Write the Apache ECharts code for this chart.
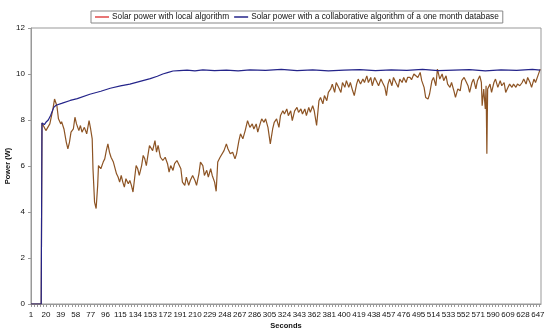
<!DOCTYPE html>
<html>
<head>
<meta charset="utf-8">
<script src="https://cdn.jsdelivr.net/npm/echarts@6/dist/echarts.min.js"></script>
<style>
  html, body { margin: 0; padding: 0; background: #fff; }
  #main { width: 550px; height: 334px; }
</style>
</head>
<body>
<div id="main"></div>
<script>
// x axis labels (seconds)
const secondLabels = [1, 20, 39, 58, 77, 96, 115, 134, 153, 172, 191, 210, 229, 248, 267, 286, 305,
  324, 343, 362, 381, 400, 419, 438, 457, 476, 495, 514, 533, 552, 571, 590, 609, 628, 647];
const yTicks = [0, 2, 4, 6, 8, 10, 12];

// local algorithm
const localSec = [1, 14, 15, 20, 25, 29, 31, 34, 36, 39, 40, 43, 46, 48, 50, 52, 55, 57, 59, 62, 64, 66, 69, 72, 75, 77, 79, 80,
  82, 84, 86, 87, 90, 93, 95, 97, 99, 101, 103, 106, 108, 110, 112, 114, 116, 118, 120, 122, 125, 127, 129, 131,
  133, 135, 137, 139, 142, 144, 146, 148, 150, 152, 154, 156, 159, 161, 163, 166, 169, 172, 175, 177, 179, 182,
  184, 187, 189, 192, 194, 197, 199, 202, 204, 207, 210, 212, 215, 217, 220, 222, 225, 227, 230, 232, 235, 237,
  239, 242, 244, 247, 250, 252, 255, 258, 261, 263, 266, 268, 271, 274, 277, 280, 283, 285, 288, 290, 293, 295,
  298, 300, 303, 306, 309, 311, 314, 317, 319, 322, 324, 327, 329, 332, 334, 337, 340, 342, 345, 347, 350, 352,
  355, 357, 360, 362, 365, 368, 370, 373, 375, 378, 380, 383, 385, 388, 390, 393, 396, 398, 401, 403, 406, 408,
  411, 413, 416, 418, 421, 424, 426, 429, 431, 434, 436, 439, 441, 444, 447, 449, 452, 454, 456, 458, 461, 463,
  466, 469, 471, 474, 476, 479, 481, 484, 486, 489, 491, 494, 497, 499, 502, 504, 507, 509, 512, 514, 517, 519,
  522, 525, 527, 530, 532, 535, 537, 540, 542, 545, 548, 550, 553, 555, 558, 560, 563, 565, 568, 570, 573, 575,
  576, 578, 580, 581, 582, 583, 586, 588, 591, 593, 596, 599, 601, 604, 606, 609, 611, 614, 616, 619, 621, 624,
  627, 629, 632, 634, 637, 639, 642, 644, 647, 650];
const localVal = [0, 0, 7.87, 7.54, 7.83, 8.48, 8.91, 8.62, 8.05, 7.83, 7.93, 7.61, 7.03, 6.75, 7.03, 7.47, 7.61, 8.12, 7.83, 7.54, 7.76, 7.47, 7.68, 7.4, 7.97, 7.61, 7.18, 5.88,
  4.43, 4.15, 5.16, 6.02, 5.88, 6.17, 6.31, 6.67, 6.96, 6.6, 6.38, 6.17, 6.24, 5.66, 5.52, 5.3, 5.59, 5.3, 5.08, 5.45, 5.23, 5.37, 5.16, 4.87,
  5.45, 6.02, 5.88, 5.59, 6.02, 6.46, 6.31, 6.02, 6.46, 6.89, 6.96, 6.67, 7.1, 6.6, 6.9, 6.38, 6.24, 6.38, 6.1, 5.73, 6.02, 5.81,
  6.1, 6.24, 6.1, 5.88, 5.3, 5.16, 5.52, 5.16, 5.37, 5.59, 5.37, 5.16, 5.66, 6.17, 6.02, 5.59, 5.81, 5.52, 5.88, 5.59, 5.3, 4.9,
  6.17, 6.38, 6.46, 6.67, 6.96, 6.75, 6.53, 6.6, 6.31, 6.53, 7.1, 7.4, 7.18, 7.54, 7.97, 7.68, 7.83, 7.61, 7.83, 7.47, 7.83, 8.05,
  7.9, 8.05, 7.68, 6.96, 7.61, 7.9, 8.05, 7.68, 8.2, 8.4, 8.26, 8.48, 8.19, 8.4, 7.97, 8.4, 8.55, 8.33, 8.48, 8.26, 8.48, 8.19,
  8.55, 8.33, 8.62, 8.4, 7.76, 8.84, 8.98, 8.7, 9.06, 8.84, 9.2, 9.35, 9.56, 9.2, 9.63, 9.42, 9.2, 9.63, 9.42, 9.71, 9.42, 9.63,
  9.27, 9.06, 9.56, 9.78, 9.56, 9.78, 9.63, 9.92, 9.63, 9.85, 9.49, 9.85, 9.71, 9.49, 9.78, 9.63, 9.42, 9.06, 9.56, 9.78, 9.49, 9.85,
  9.63, 9.42, 9.78, 9.63, 9.85, 9.63, 9.85, 9.85, 9.75, 10.0, 10.07, 9.85, 10.07, 9.71, 9.42, 8.98, 8.91, 9.13, 9.71, 9.85, 9.49, 10.21,
  9.78, 10.0, 9.71, 9.92, 9.56, 9.42, 9.63, 9.27, 8.98, 9.35, 9.27, 9.71, 9.85, 9.71, 9.49, 9.2, 9.63, 9.78, 9.35, 9.71, 9.92, 9.63,
  8.62, 9.35, 8.48, 9.49, 6.53, 9.35, 9.56, 9.2, 9.63, 9.78, 9.42, 9.71, 9.49, 9.63, 9.2, 9.42, 9.56, 9.42, 9.56, 9.42, 9.56, 9.49,
  9.63, 9.78, 9.56, 9.85, 9.63, 9.42, 9.78, 9.63, 9.92, 10.21];

// collaborative algorithm, one month database
const collabSec = [1, 14, 15, 18, 20, 23, 26, 30, 33, 40, 51, 60, 76, 90, 102, 115, 127, 140, 153, 162, 169, 176, 182,
  190, 200, 210, 220, 235, 250, 265, 280, 300, 320, 340, 360, 380, 400, 420, 440, 460, 480, 500, 520, 540, 560,
  580, 600, 620, 640, 650];
const collabVal = [0, 0, 7.87, 7.8, 7.9, 8.0, 8.2, 8.55, 8.64, 8.72, 8.85, 8.93, 9.12, 9.25, 9.38, 9.48, 9.56, 9.68, 9.8,
  9.9, 10.0, 10.07, 10.13, 10.15, 10.17, 10.14, 10.18, 10.15, 10.17, 10.14, 10.18, 10.16, 10.2, 10.15, 10.18, 10.14,
  10.17, 10.19, 10.15, 10.18, 10.16, 10.2, 10.15, 10.17, 10.19, 10.14, 10.18, 10.16, 10.2, 10.17];

const localName = 'Solar power with local algorithm';
const collabName = 'Solar power with a collaborative algorithm of a one month database';

const minorTicks = [];
for (let s = 1; s <= 651; s += 4) minorTicks.push(s);

const chart = echarts.init(document.getElementById('main'), null, { renderer: 'canvas' });

chart.setOption({
  animation: false,
  textStyle: { fontFamily: 'Liberation Sans, Arial, sans-serif' },
  legend: {
    left: 91,
    top: 11,
    padding: [2, 4],
    itemGap: 5,
    itemWidth: 14,
    itemHeight: 6,
    borderColor: '#888',
    borderWidth: 1,
    icon: 'path://M0,0 L14,0 L14,1.5 L0,1.5 Z',
    textStyle: { fontSize: 8.3, color: '#111', padding: [0, 0, 0, -2] },
    data: [
      { name: localName, itemStyle: { color: '#e04848' } },
      { name: collabName, itemStyle: { color: '#24248a' } }
    ]
  },
  grid: {
    left: 31, right: 9, top: 28, bottom: 30,
    containLabel: false,
    outerBoundsMode: 'none',
    show: true, borderColor: '#999', borderWidth: 1
  },
  xAxis: {
    type: 'value',
    min: 1,
    max: 651,
    name: 'Seconds',
    nameLocation: 'middle',
    nameGap: 18,
    nameMoveOverlap: false,
    nameTextStyle: { fontSize: 7.5, fontWeight: 'bold', color: '#111' },
    axisLine: { lineStyle: { color: '#999' } },
    axisTick: { customValues: minorTicks, length: 3, lineStyle: { color: '#999' } },
    axisLabel: { customValues: secondLabels, fontSize: 8, color: '#111', margin: 7 },
    splitLine: { show: false }
  },
  yAxis: {
    type: 'value',
    min: 0,
    max: 12,
    interval: 2,
    name: 'Power (W)',
    nameLocation: 'middle',
    nameGap: 19,
    nameMoveOverlap: false,
    nameTextStyle: { fontSize: 7.5, fontWeight: 'bold', color: '#111' },
    axisLine: { show: true, lineStyle: { color: '#999' } },
    axisTick: { show: true, length: 3, lineStyle: { color: '#999' } },
    axisLabel: { fontSize: 8, color: '#111', margin: 6 },
    splitLine: { show: false }
  },
  series: [
    {
      name: localName,
      type: 'line',
      showSymbol: false,
      color: '#8d5424',
      lineStyle: { width: 1.2, color: '#8d5424' },
      data: localSec.map((s, i) => [s, localVal[i]])
    },
    {
      name: collabName,
      type: 'line',
      showSymbol: false,
      color: '#24248a',
      lineStyle: { width: 1.2, color: '#24248a' },
      data: collabSec.map((s, i) => [s, collabVal[i]])
    }
  ]
});
</script>
</body>
</html>
